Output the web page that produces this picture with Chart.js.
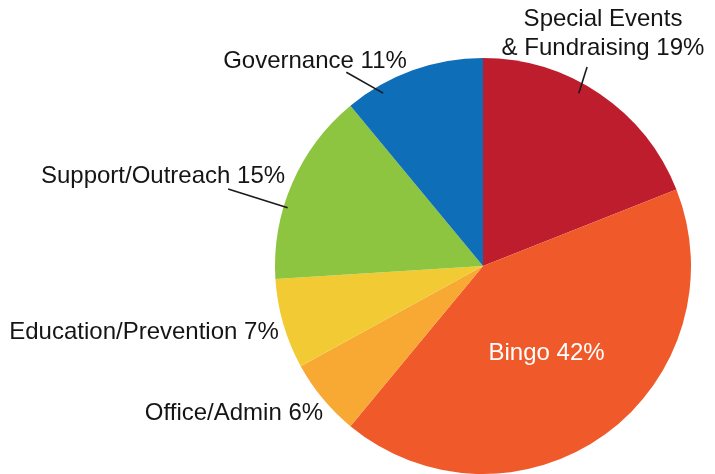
<!DOCTYPE html>
<html>
<head>
<meta charset="utf-8">
<script src="https://cdn.jsdelivr.net/npm/chart.js@4.4.1/dist/chart.umd.min.js"></script>
<style>
    html, body { margin: 0; padding: 0; background: #ffffff; }
    #wrap { width: 715px; height: 474px; position: relative; }
</style>
</head>
<body>
<div id="wrap"><canvas id="grafico-pie" width="715" height="474"></canvas></div>
<script>
// data (clockwise from 12 o'clock)
const categorias = ['Special Events & Fundraising', 'Bingo', 'Office/Admin', 'Education/Prevention', 'Support/Outreach', 'Governance'];
const porcentajes = [19, 42, 6, 7, 15, 11];
const etiquetas = [
    ['Special Events', '& Fundraising 19%'],
    ['Bingo 42%'],
    ['Office/Admin 6%'],
    ['Education/Prevention 7%'],
    ['Support/Outreach 15%'],
    ['Governance 11%']
];
const colores = ['#be1d2d', '#f05a2a', '#f8a934', '#f2cb34', '#8dc540', '#0e6eb7'];

// where each label sits; lines are given as angle (deg from top) and radius fraction
const posEtiquetas = [
    { x: 603, y: 19, line: [29, 0.95, 27.6, 1.08] },
    { inside: true, r: 0.52, color: '#ffffff' },
    { x: 234, y: 413 },
    { x: 144, y: 332 },
    { x: 163, y: 176, line: [-73.4, 0.98, -73.2, 1.28] },
    { x: 315, y: 61, line: [-30, 0.96, -35.2, 1.14] }
];

const pluginEtiquetas = {
    id: 'etiquetas',
    afterDatasetsDraw(chart) {
        const ctx = chart.ctx;
        const arcs = chart.getDatasetMeta(0).data;
        const cx = arcs[0].x, cy = arcs[0].y, R = arcs[0].outerRadius;
        const punto = (ang, f) => {
            const a = ang * Math.PI / 180;
            return [cx + Math.sin(a) * R * f, cy - Math.cos(a) * R * f];
        };
        ctx.save();
        ctx.font = '24px "Liberation Sans", Arial, sans-serif';
        ctx.textAlign = 'center';
        ctx.textBaseline = 'middle';
        etiquetas.forEach((lineas, i) => {
            const p = posEtiquetas[i];
            let x = p.x, y = p.y;
            if (p.inside) {
                const arc = arcs[i];
                const mid = (arc.startAngle + arc.endAngle) / 2;
                x = cx + Math.cos(mid) * R * p.r;
                y = cy + Math.sin(mid) * R * p.r;
            }
            ctx.fillStyle = p.color || '#151515';
            lineas.forEach((t, k) => ctx.fillText(t, x, y + k * 29));
            if (p.line) {
                const a = punto(p.line[0], p.line[1]);
                const b = punto(p.line[2], p.line[3]);
                ctx.strokeStyle = '#1a1a1a';
                ctx.lineWidth = 1.6;
                ctx.beginPath();
                ctx.moveTo(a[0], a[1]);
                ctx.lineTo(b[0], b[1]);
                ctx.stroke();
            }
        });
        ctx.restore();
    }
};

function loadPage() {
    const data = {
        labels: categorias,
        datasets: [{
            data: porcentajes,
            backgroundColor: colores,
            borderWidth: 0,
            hoverOffset: 0
        }]
    };
    const config = {
        type: 'pie',
        data: data,
        options: {
            responsive: false,
            animation: false,
            layout: { padding: { left: 275, right: 24, top: 58, bottom: 0 } },
            plugins: {
                legend: { display: false },
                tooltip: { enabled: false }
            }
        },
        plugins: [pluginEtiquetas]
    };
    new Chart(document.getElementById('grafico-pie').getContext('2d'), config);
}
window.addEventListener("DOMContentLoaded", loadPage);
</script>
</body>
</html>
